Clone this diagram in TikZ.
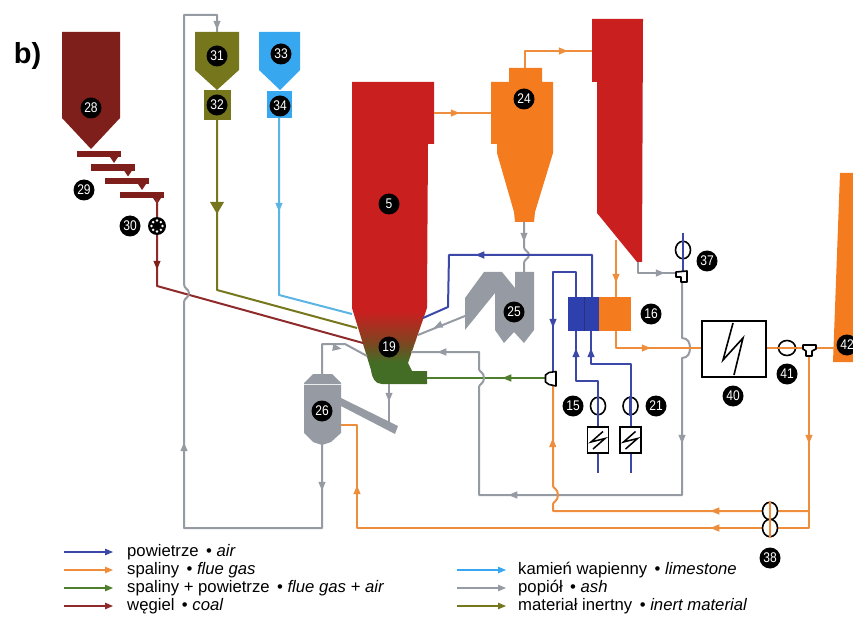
\documentclass[tikz,border=0pt]{standalone}
\usepackage{fontspec}
\setmainfont{Liberation Sans}
\newfontfamily\narrowf[FakeStretch=0.86]{Liberation Sans}
\usetikzlibrary{calc,shapes.geometric}
\definecolor{cCoal}{HTML}{7E1F1B}
\definecolor{cCoalL}{HTML}{8E2A2A}
\definecolor{cOlive}{HTML}{76761C}
\definecolor{cLime}{HTML}{37A8F0}
\definecolor{cLimeL}{HTML}{5AB4E4}
\definecolor{cAir}{HTML}{3C48A8}
\definecolor{cAirF}{HTML}{2E3FAE}
\definecolor{cAsh}{HTML}{959AA3}
\definecolor{cGreen}{HTML}{4F7F2C}
\definecolor{cGas}{HTML}{EE8E3C}
\definecolor{cOrange}{HTML}{F47B1E}
\definecolor{cRed}{HTML}{C9201F}
\pgfdeclareverticalshading{fzone}{100bp}{color(0bp)=(cGreen!85!black); color(38bp)=(cGreen!85!black); color(52bp)=(cRed!60!cGreen!90!black); color(68bp)=(cRed); color(100bp)=(cRed)}
\tikzset{
  num/.style={circle,fill=black,text=white,inner sep=0pt,minimum size=21pt,font=\narrowf\fontsize{14}{14}\selectfont},
  pipe/.style={line width=2pt,line join=round},
  coal/.style={pipe,draw=cCoalL},
  olive/.style={pipe,draw=cOlive},
  lime/.style={pipe,draw=cLimeL},
  air/.style={pipe,draw=cAir},
  ash/.style={pipe,draw=cAsh},
  mix/.style={pipe,draw=cGreen},
  gas/.style={pipe,draw=cGas},
  legpipe/.style={line width=1.6pt},
  fanbody/.style={ellipse,draw=black,fill=white,line width=1.6pt,inner sep=0pt,minimum width=15pt,minimum height=17.5pt},
  hxbox/.style={draw=black,fill=white,line width=1.6pt,inner sep=0pt},
  valveb/.style={draw=black,fill=white,line width=1.6pt,line join=round},
  legt/.style={anchor=west,inner sep=0pt,font=\fontsize{16.7}{16.7}\selectfont},
}
\newcommand{\tipp}[3]{\fill[#3] (#1) ++(#2:4.5) -- ++(#2+157:9.5) -- ++(#2-90:7.4) -- cycle;}
\newcommand{\fanv}[3]{\node[fanbody] (#1) at (#2) {}; \draw[#3,line width=2.5pt] (#1.north) -- (#1.south);}
\newcommand{\fanh}[3]{\node[fanbody,minimum width=17pt,minimum height=15pt] (#1) at (#2) {}; \draw[#3,line width=2.5pt] (#1.west) -- (#1.east);}
\newcommand{\legline}[3]{\coordinate (#1a) at (#2); \coordinate (#1b) at ($(#2)+(45,0)$); \draw[legpipe,draw=#3] (#1a) -- (#1b); \fill[#3] (#1b) ++(4,0) -- ++(-8,3.4) -- ++(0,-6.8) -- cycle;}
\begin{document}
\begin{tikzpicture}[x=1pt,y=-1pt]
\useasboundingbox (0,0) rectangle (853,617);

% ---- equipment
\fill[cCoal] (62,32) -- (120,32) -- (120,118) -- (91,149) -- (62,118) -- cycle;
\foreach \a/\b in {77/151,91/164.5,105/178,120/192}{
  \fill[cCoal] (\a,\b) rectangle ++(44,6.5);
  \fill[cCoal] (\a+33,\b+6) -- ++(8,0) -- ++(-4,6) -- cycle;
}
\fill[cOlive] (195,32) -- (239,32) -- (239,70) -- (217,90) -- (195,70) -- cycle;
\fill[cOlive] (204,90) rectangle (231,120);
\fill[cLime] (259,32) -- (300,32) -- (300,70) -- (280,90) -- (259,70) -- cycle;
\fill[cLime] (267,91) rectangle (292,118);

% furnace
\fill[cRed] (352,82) -- (434,82) -- (434,144) -- (428,144) -- (427,302) -- (352,302) -- cycle;
\shade[shading=fzone] (352,300) -- (427,300) -- (427,308) -- (408,363) -- (412,371) -- (427,371) -- (427,384) -- (382,384)
  .. controls (375,384) and (372,378) .. (371,370) -- (352,308) -- cycle;

% cyclone 24
\fill[cOrange] (509,68) -- (542,68) -- (542,82) -- (553,82) -- (553,153) -- (535,212) -- (534,222) -- (515,222) -- (514,212) -- (497,153) -- (497,144) -- (491,144) -- (491,82) -- (509,82) -- cycle;

% duct
\fill[cRed] (592,19) -- (643,19) -- (642,262) -- (637,262) -- (597,213) -- (597,82) -- (592,82) -- cycle;

% separator 25
\fill[cAsh] (484,272) -- (502,272) -- (515,288) -- (515,272) -- (534,272) -- (534,330) -- (524,343) -- (514,332) -- (504,343) -- (495,330) -- (495,293) -- (465,330) -- (465,298) -- cycle;

% ash cooler 26
\fill[cAsh] (341,398) -- (398,426) -- (395,434) -- (341,406) -- cycle;
\fill[cAsh] (313,374) -- (332,374) -- (341,383) -- (341,433) -- (331,442) -- (322,445) -- (313,442) -- (304,433) -- (304,383) -- cycle;
\draw[white!80!cAsh,line width=0.8pt] (304,384) -- (341,384);

% heat exchanger 16
\fill[cAirF] (568,297) rectangle (599,331);
\draw[cAir!70!black,line width=0.7pt] (584,297) -- (584,331);
\fill[cOrange] (599,297) rectangle (631,331);

% stack 42
\fill[cOrange] (840,173) -- (853,173) -- (853,362) -- (833,362) -- cycle;

% ---- named junctions
\coordinate (coalTop) at (157,199);
\coordinate (coalBend) at (157,286);
\coordinate (coalEnd) at (363,343);
\coordinate (oliveBend) at (217,290);
\coordinate (oliveEnd) at (357,328);
\coordinate (limeBend) at (279,295);
\coordinate (limeEnd) at (352,314);

% ---- pipes
\draw[coal] (coalTop) -- (coalBend) -- (coalEnd);
\draw[olive] (217,120) -- (oliveBend) -- (oliveEnd);
\draw[lime] (279,118) -- (limeBend) -- (limeEnd);

% ash loop at left
\draw[ash] (217,32) -- (217,15) -- (184,15) -- (184,284)
  .. controls (184,289) and (189,289) .. (189,293) .. controls (189,298) and (184,298) .. (184,302)
  -- (184,528) -- (322,528) -- (322,445);
\draw[ash] (322,374) -- (322,344) -- (345,344) -- (367,356);
\draw[ash] (389,384) -- (389,426);
\draw[ash] (465,316) -- (418,335);

% gas
\draw[gas] (434,113) -- (491,113);
\draw[gas] (525,68) -- (525,51) -- (592,51);
\draw[ash] (524,222) -- (524,247) .. controls (524,251) and (529,251) .. (529,255) .. controls (529,259) and (524,259) .. (524,263) -- (524,272);

% air to furnace
\draw[air] (423,318) -- (448,307) -- (449,255) -- (592,255) -- (592,297);
\draw[air] (576,297) -- (576,272) -- (553,272) -- (553,372);
\draw[air] (576,331) -- (576,381) -- (598,381) -- (598,473);
\draw[air] (591,331) -- (591,364) -- (630.5,364) -- (630.5,473);

% mix
\draw[mix] (427,378) -- (545,378);

% ash recirculation
\draw[ash] (411,352) -- (479,352) -- (479,369) .. controls (479,372) and (484,372) .. (484,378) .. controls (484,384) and (479,384) .. (479,387) -- (479,495) -- (682,495)
 -- (682,358) .. controls (688,358) and (690,353) .. (690,348) .. controls (690,343) and (688,338) .. (682,338) -- (682,278);
\draw[ash] (638,262) -- (638,273) -- (676,273);
\draw[air] (683,233) -- (683,271);

% flue gas
\draw[gas] (616,240) -- (616,297);
\draw[gas] (616,331) -- (616,348) -- (702,348);
\draw[gas] (766,348) -- (835,348);
\draw[gas] (809,356) -- (809,528) -- (357,528) -- (357,425) -- (341,425);
\draw[gas] (809,511) -- (553,511) -- (553,504) .. controls (553,502) and (558,501) .. (558,495) .. controls (558,489) and (553,488) .. (553,486) -- (553,386);

% ---- devices
\node[hxbox,minimum width=64pt,minimum height=56pt] (hx40) at (734,349) {};
\draw[black,line width=1.6pt,line join=miter] (733,323) -- (723,360) -- (743,338) -- (734,375);
\foreach \n/\c in {a/598,b/630.5}{
  \node[hxbox,minimum width=21pt,minimum height=26pt] (hx\n) at (\c,440) {};
  \draw[black,line width=1.5pt] (\c+5,431.5) -- (\c-7,442) -- (\c+7,438.5) -- (\c-5,449);
}
\fanv{fan15}{598,406}{cAir}
\fanv{fan21}{630.5,406}{cAir}
\fanv{fan37}{683,250}{cAir}
\fanh{fan41}{787,348}{cGas}
\fanv{fan38a}{770,511}{cGas}
\fanv{fan38b}{770,528}{cGas}
\draw[valveb] (549,372.5) -- (556,371.5) -- (556,386) -- (549,384.5) -- (545.5,382) -- (545.5,375) -- cycle;
\draw[valveb] (676,272) -- (687,271) -- (687,282) -- (681,282) -- (681,277) -- (676,277) -- cycle;
\draw[valveb] (803,345) -- (816,345) -- (816,349) -- (812,351) -- (812,356) -- (806,356) -- (806,351) -- (803,349) -- cycle;

% rotary feeder
\node[circle,fill=black,inner sep=0pt,minimum size=18pt] (rot) at (157,226) {};
\foreach \t in {0,45,...,315}{\fill[white] (rot) ++(\t:5.5) circle (1.4);}

% ---- arrowheads
\tipp{217,25}{90}{cAsh}
\tipp{184,447}{-90}{cAsh}
\tipp{322,486}{90}{cAsh}
\tipp{337,348}{10}{cAsh}
\tipp{389,397}{90}{cAsh}
\tipp{438,326}{157}{cAsh}
\tipp{524,237}{90}{cAsh}
\tipp{442,352}{180}{cAsh}
\tipp{513,495}{180}{cAsh}
\tipp{682,439}{90}{cAsh}
\tipp{660,273}{0}{cAsh}
\fill[cOlive] (217,214) -- (210,202) -- (224,202) -- cycle;
\tipp{279,207}{90}{cLimeL}
\tipp{157,265}{90}{cCoal}
\tipp{455,113}{0}{cGas}
\tipp{563,51}{0}{cGas}
\tipp{616,278}{90}{cGas}
\tipp{646,348}{0}{cGas}
\tipp{552.7,443}{-90}{cGas}
\tipp{357,490}{-90}{cGas}
\tipp{809,439}{90}{cGas}
\tipp{715,511}{180}{cGas}
\tipp{715,528}{180}{cGas}
\tipp{480,255}{180}{cAir}
\tipp{553,323}{90}{cAir}
\tipp{576,353}{-90}{cAir}
\tipp{591,353}{-90}{cAir}
\tipp{507,378}{180}{cGreen}

% ---- numbers
\node[num] (n28) at (91,108) {28};
\node[num] (n29) at (84,190) {29};
\node[num] (n30) at (130,226) {30};
\node[num] (n31) at (217,56) {31};
\node[num] (n32) at (217,105) {32};
\node[num] (n33) at (281,54) {33};
\node[num] (n34) at (280,106) {34};
\node[num] (n5) at (389,204) {5};
\node[num] (n24) at (524,99) {24};
\node[num] (n25) at (514,312) {25};
\node[num] (n19) at (389,347) {19};
\node[num] (n26) at (322,411) {26};
\node[num] (n16) at (651,314) {16};
\node[num] (n15) at (573,406) {15};
\node[num] (n21) at (656,406) {21};
\node[num] (n37) at (707,261) {37};
\node[num] (n40) at (733,396) {40};
\node[num] (n41) at (787,374) {41};
\node[num] (n38) at (770,558) {38};
\node[num] (n42) at (847,345) {42};

\node[anchor=center,inner sep=0pt,font=\bfseries\fontsize{29}{29}\selectfont] (lab) at (27.5,56) {b)};

% ---- legend
\legline{la}{64,552}{cAir}
\legline{lb}{64,570}{cGas}
\legline{lc}{64,588}{cGreen}
\legline{ld}{64,606}{cCoalL}
\legline{le}{457,570}{cLime}
\legline{lf}{457,588}{cAsh}
\legline{lg}{457,606}{cOlive}
\node[legt] (ta) at (127,552) {powietrze \,• \textit{air}};
\node[legt] (tb) at (127,570) {spaliny \,• \textit{flue gas}};
\node[legt] (tc) at (127,588) {spaliny + powietrze \,• \textit{flue gas + air}};
\node[legt] (td) at (127,606) {węgiel \,• \textit{coal}};
\node[legt] (te) at (518,570) {kamień wapienny \,• \textit{limestone}};
\node[legt] (tf) at (518,588) {popiół \,• \textit{ash}};
\node[legt] (tg) at (518,606) {materiał inertny \,• \textit{inert material}};
\end{tikzpicture}
\end{document}
